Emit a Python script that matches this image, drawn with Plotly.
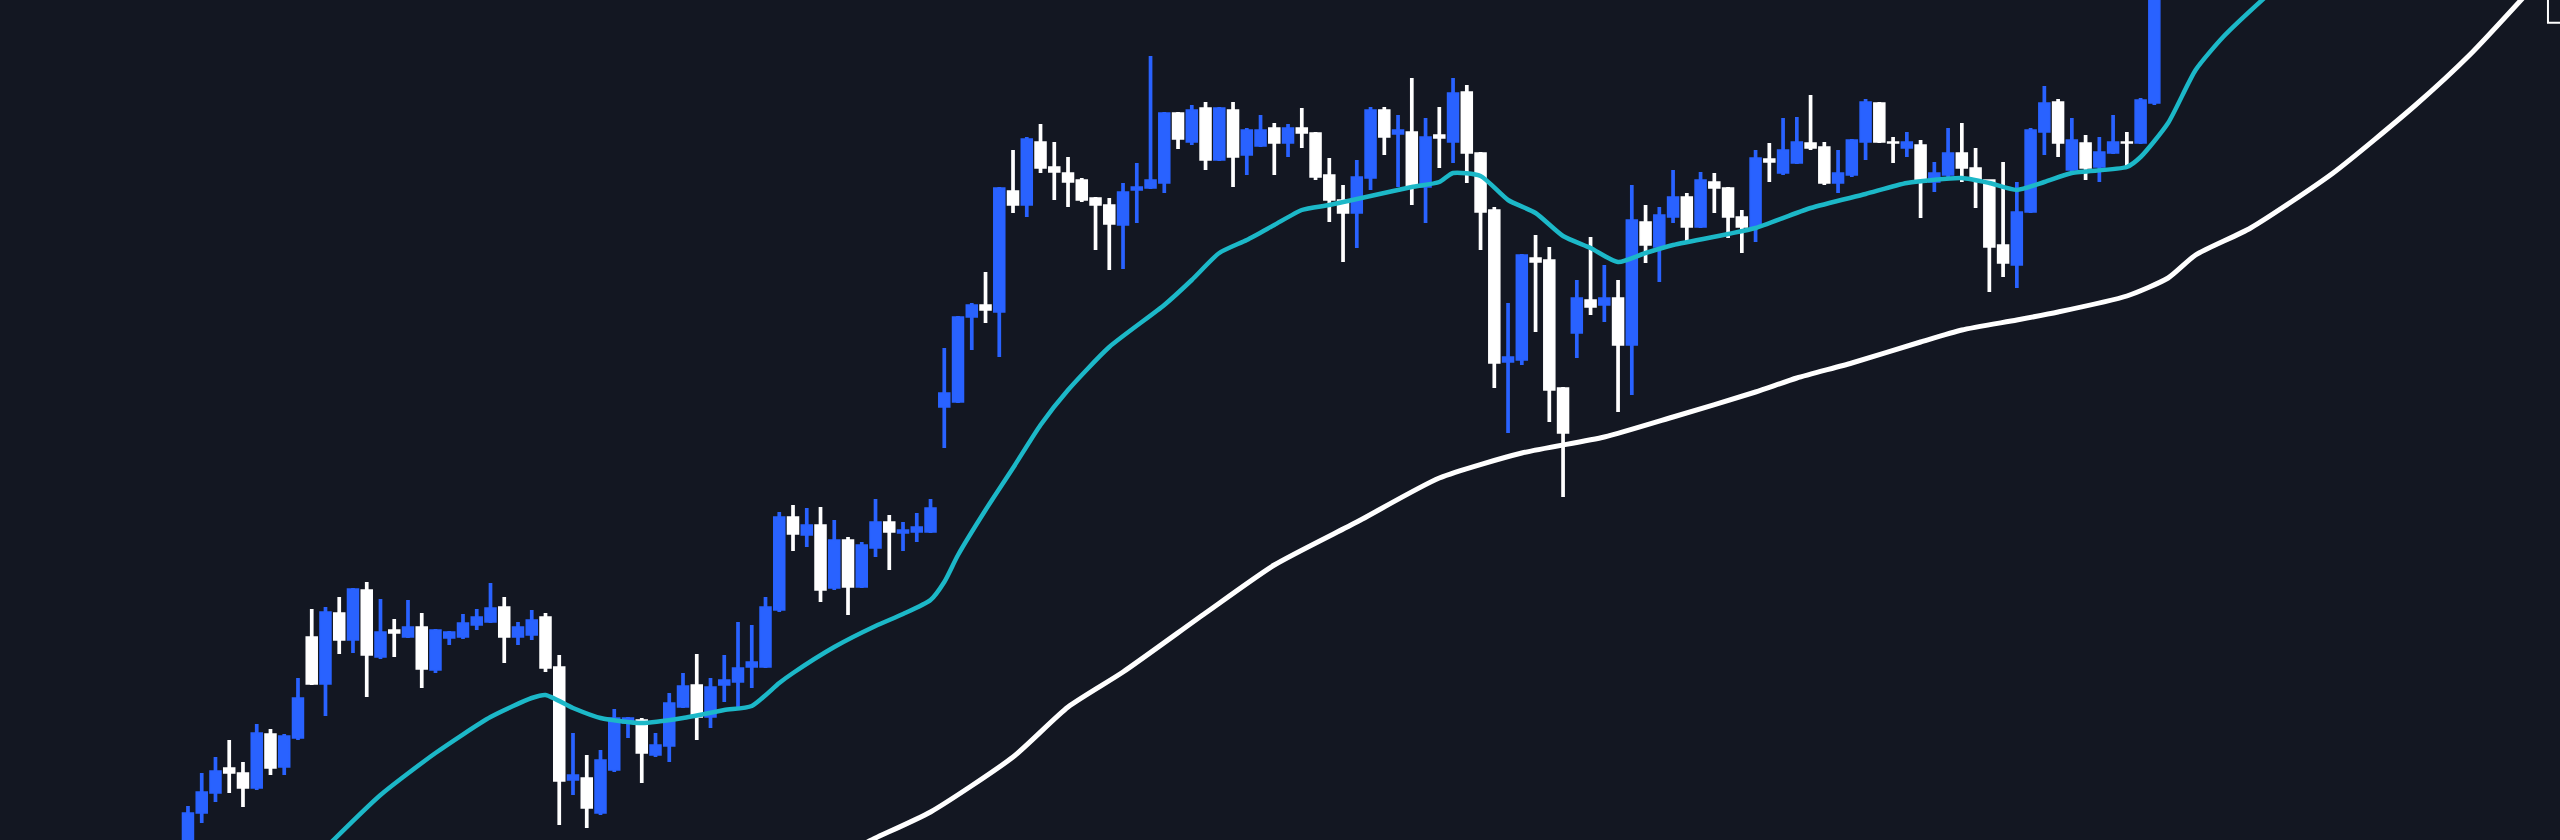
import plotly.graph_objects as go

# candle index (one per bar), prices
opens = [-5, 27, 47, 72, 67, 52, 106, 73, 102, 203, 156, 227, 200, 250, 183, 210, 203, 213, 170, 202,
         203, 215, 218, 233, 203, 205, 223, 173, 60, 62, 27, 70, 117, 120, 85, 94, 133, 155, 123, 155,
         158, 173, 173, 230, 323, 305, 315, 252, 300, 253, 292, 318, 307, 308, 308, 433, 438, 523, 535, 528,
         649, 635, 698, 673, 667, 660, 642, 635, 615, 650, 652, 657, 727, 698, 732, 680, 730, 685, 694, 712,
         697, 712, 707, 665, 640, 627, 662, 730, 706, 708, 653, 705, 698, 748, 687, 630, 478, 480, 582, 580,
         452, 507, 540, 535, 542, 495, 618, 593, 623, 643, 613, 658, 652, 623, 613, 681, 667, 677, 697, 693,
         657, 665, 698, 737, 698, 692, 695, 658, 665, 687, 672, 660, 595, 575, 628, 708, 738, 670, 697, 673,
         687, 698, 697, 737]
highs = [34, 67, 83, 100, 78, 116, 111, 106, 162, 231, 233, 243, 252, 258, 241, 221, 240, 227, 211, 209,
         226, 231, 257, 243, 218, 230, 227, 185, 107, 85, 90, 131, 123, 122, 107, 147, 167, 186, 162, 185,
         218, 215, 243, 328, 335, 332, 333, 320, 303, 298, 341, 325, 318, 327, 341, 492, 524, 537, 568, 653,
         690, 703, 716, 698, 683, 662, 643, 642, 657, 677, 784, 728, 728, 735, 738, 733, 738, 712, 725, 717,
         716, 732, 708, 682, 655, 680, 733, 733, 725, 762, 722, 733, 762, 755, 688, 633, 537, 586, 605, 593,
         453, 560, 603, 575, 560, 655, 635, 633, 670, 647, 668, 667, 653, 630, 690, 697, 722, 723, 745, 698,
         690, 701, 741, 738, 703, 708, 700, 678, 712, 717, 692, 660, 678, 658, 712, 754, 741, 722, 705, 703,
         725, 708, 742, 890]
lows = [-15, 17, 38, 47, 33, 50, 65, 65, 100, 155, 124, 186, 187, 143, 181, 183, 202, 152, 167, 195,
        201, 210, 217, 177, 195, 200, 168, 15, 45, 12, 25, 68, 102, 57, 83, 78, 132, 100, 112, 138,
        133, 152, 172, 228, 289, 293, 238, 250, 225, 252, 283, 270, 289, 298, 307, 392, 437, 490, 517, 483,
        627, 623, 667, 640, 633, 638, 590, 570, 571, 617, 651, 647, 691, 695, 670, 679, 653, 665, 693, 665,
        683, 692, 660, 618, 578, 592, 650, 685, 653, 635, 617, 672, 677, 657, 590, 452, 407, 475, 508, 418,
        343, 482, 525, 518, 428, 445, 577, 558, 617, 597, 612, 627, 602, 587, 598, 658, 665, 676, 690, 655,
        647, 663, 680, 697, 677, 683, 622, 648, 663, 658, 632, 548, 563, 552, 627, 685, 683, 668, 660, 658,
        686, 673, 696, 735]
closes = [27, 48, 69, 67, 52, 107, 72, 104, 142, 156, 228, 200, 251, 185, 208, 207, 213, 171, 210, 208,
          217, 223, 232, 203, 213, 220, 172, 59, 65, 32, 80, 122, 122, 87, 95, 137, 154, 123, 153, 160,
          172, 178, 233, 323, 306, 315, 250, 300, 253, 295, 318, 308, 310, 313, 332, 447, 523, 535, 530, 652,
          635, 701, 672, 668, 658, 640, 635, 616, 648, 653, 660, 727, 701, 730, 680, 732, 683, 710, 710, 697,
          712, 707, 663, 640, 627, 663, 730, 703, 710, 653, 703, 702, 747, 687, 628, 477, 483, 585, 578, 450,
          407, 542, 533, 542, 495, 620, 595, 625, 643, 613, 660, 652, 623, 613, 682, 678, 690, 698, 692, 657,
          667, 700, 738, 698, 697, 698, 658, 667, 687, 672, 660, 593, 577, 628, 710, 737, 697, 700, 672, 688,
          698, 697, 740, 880]
bars = list(range(len(closes)))

# fast average (cyan)
fast_x = [10, 14, 18, 22, 25, 26, 28, 30, 33, 36, 39, 41, 43, 44, 47, 50, 52, 54, 55, 56,
          58, 60, 62, 64, 67, 71, 73, 75, 77, 79, 81, 83, 86, 89, 91, 92, 94, 96, 98, 100,
          102, 104, 106, 108, 112, 114, 118, 122, 125, 129, 131, 133, 135, 137, 141, 142, 144, 146, 148, 151, 155]
fast_y = [-8, 45, 87, 123, 142, 145, 132, 122, 117, 122, 130, 134, 157, 167, 193, 214, 226, 240, 258, 285,
          330, 372, 415, 450, 493, 535, 560, 587, 600, 615, 630, 635, 644, 653, 658, 667, 664, 640, 627, 604,
          592, 578, 587, 595, 606, 612, 632, 646, 657, 662, 657, 650, 658, 667, 673, 683, 717, 770, 803, 842, 890]

# slow average (white)
slow_x = [49, 50, 54, 60, 64, 68, 74, 79, 85, 91, 97, 103, 108, 114, 117, 121, 126, 129, 133, 136,
          141, 144, 146, 150, 156, 162, 166, 170]
slow_y = [-5, 2, 28, 83, 133, 168, 227, 275, 318, 362, 387, 403, 423, 448, 462, 477, 498, 510, 520, 528,
          544, 562, 585, 612, 667, 735, 786, 845]

BG = "#131722"
BLUE = "#2962FF"
WHITE = "#FFFFFF"

colors = [BLUE if c >= o else WHITE for o, c in zip(opens, closes)]
body_base = [min(o, c) for o, c in zip(opens, closes)]
body_len = [abs(c - o) for o, c in zip(opens, closes)]
wick_len = [h - l for h, l in zip(highs, lows)]

fig = go.Figure()
fig.add_trace(go.Scatter(x=slow_x, y=slow_y, mode="lines",
                         line=dict(color=WHITE, width=5, shape="spline", smoothing=0.6),
                         hoverinfo="skip"))
fig.add_trace(go.Scatter(x=fast_x, y=fast_y, mode="lines",
                         line=dict(color="#1CB8C8", width=4.5, shape="spline", smoothing=0.6),
                         hoverinfo="skip"))
# wicks
fig.add_trace(go.Bar(x=bars, y=wick_len, base=lows, width=0.27,
                     marker=dict(color=colors, line=dict(width=0)), hoverinfo="skip"))
# bodies
fig.add_trace(go.Bar(x=bars, y=body_len, base=body_base, width=0.8,
                     marker=dict(color=colors, line=dict(color=colors, width=1.5)),
                     customdata=list(zip(opens, highs, lows, closes)),
                     hovertemplate="O %{customdata[0]}<br>H %{customdata[1]}<br>L %{customdata[2]}"
                                   "<br>C %{customdata[3]}<extra></extra>"))

# price tag edge at the top right corner
fig.add_shape(type="rect", xref="paper", yref="paper", x0=0.9953, x1=1.02, y0=0.973, y1=1.05,
              line=dict(color=WHITE, width=2), fillcolor=BG)

fig.update_layout(
    width=2560, height=840,
    margin=dict(l=0, r=0, t=0, b=0),
    paper_bgcolor=BG, plot_bgcolor=BG,
    showlegend=False,
    barmode="overlay",
    xaxis=dict(range=[-13.67, 172.5], visible=False),
    yaxis=dict(range=[0, 840], visible=False),
)

fig.write_html("out.html", config={"displayModeBar": False},
               post_script="document.body.style.margin='0';document.body.style.overflow='hidden';")
